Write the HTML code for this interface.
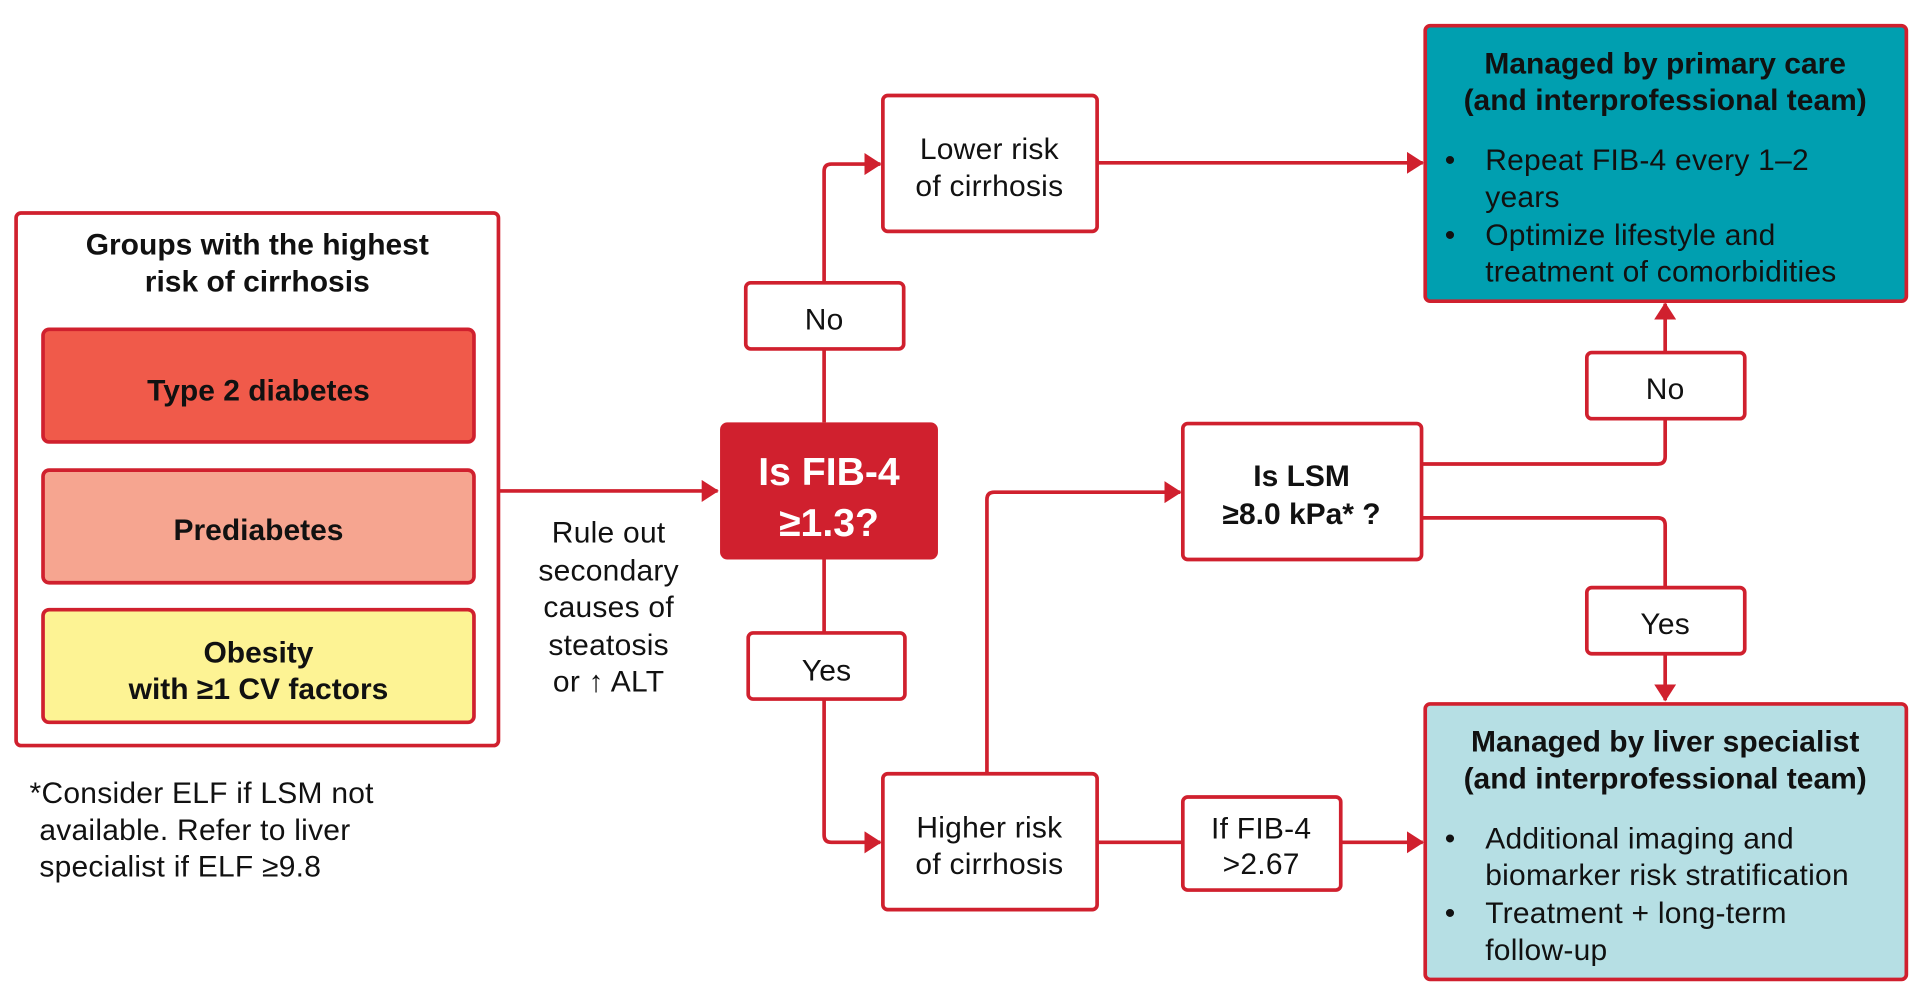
<!DOCTYPE html>
<html><head><meta charset="utf-8"><style>
html,body{margin:0;padding:0;background:#fff;width:1920px;height:999px;overflow:hidden}
svg{display:block}
text{font-family:"Liberation Sans",sans-serif;font-size:24.5px;fill:#111;letter-spacing:0.2px}
.b{font-weight:bold;letter-spacing:0}
.c{text-anchor:middle}
</style></head><body>
<svg width="1920" height="999" viewBox="0 0 1568 816" xmlns="http://www.w3.org/2000/svg">
<defs><marker id="a" markerWidth="14" markerHeight="18" refX="13" refY="9" orient="auto" markerUnits="userSpaceOnUse"><path d="M0,0 L14,9 L0,18 Z" fill="#d0202e"/></marker></defs>
<g fill="none" stroke="#d0202e" stroke-width="3">
<rect x="13" y="174" width="394" height="435" rx="4" fill="#fff"/>
<rect x="35" y="269" width="352" height="92" rx="5" fill="#f05a4a"/>
<rect x="35" y="384" width="352" height="92" rx="5" fill="#f6a590"/>
<rect x="35" y="498" width="352" height="92" rx="5" fill="#fdf394"/>
<path d="M407,401 H586" marker-end="url(#a)"/>
<path d="M673,345 V140 Q673,134 679,134 H719" marker-end="url(#a)"/>
<path d="M673,457 V682 Q673,688 679,688 H719" marker-end="url(#a)"/>
<path d="M896,133 H1162" marker-end="url(#a)"/>
<path d="M806,632 V408 Q806,402 812,402 H964" marker-end="url(#a)"/>
<path d="M1161,379 H1354 Q1360,379 1360,373 V248" marker-end="url(#a)"/>
<path d="M1161,423 H1354 Q1360,423 1360,429 V572" marker-end="url(#a)"/>
<path d="M896,688 H966"/>
<path d="M1095,688 H1162" marker-end="url(#a)"/>
<rect x="609" y="231" width="129" height="54" rx="4" fill="#fff"/>
<rect x="611" y="517" width="128" height="54" rx="4" fill="#fff"/>
<rect x="721" y="78" width="175" height="111" rx="4" fill="#fff"/>
<rect x="721" y="632" width="175" height="111" rx="4" fill="#fff"/>
<rect x="966" y="346" width="195" height="111" rx="4" fill="#fff"/>
<rect x="1296" y="288" width="129" height="54" rx="4" fill="#fff"/>
<rect x="1296" y="480" width="129" height="54" rx="4" fill="#fff"/>
<rect x="966" y="651" width="129" height="76" rx="4" fill="#fff"/>
<rect x="1164" y="21" width="393" height="225" rx="4" fill="#009fb0"/>
<rect x="1164" y="575" width="393" height="225" rx="4" fill="#b6dfe4"/>
</g>
<rect x="588" y="345" width="178" height="112" rx="6" fill="#d0202e"/>
<text class="b c" x="210" y="208">Groups with the highest</text>
<text class="b c" x="210" y="238">risk of cirrhosis</text>
<text class="b c" x="211" y="327">Type 2 diabetes</text>
<text class="b c" x="211" y="441">Prediabetes</text>
<text class="b c" x="211" y="541">Obesity</text>
<text class="b c" x="211" y="571">with ≥1 CV factors</text>
<text x="24" y="656">*Consider ELF if LSM not</text>
<text x="32" y="686">available. Refer to liver</text>
<text x="32" y="716">specialist if ELF ≥9.8</text>
<text class="c" x="497" y="443">Rule out</text>
<text class="c" x="497" y="474">secondary</text>
<text class="c" x="497" y="504">causes of</text>
<text class="c" x="497" y="535">steatosis</text>
<text class="c" x="497" y="565">or ↑ ALT</text>
<text class="b c" x="677" y="396" style="font-size:32px;fill:#fff">Is FIB-4</text>
<text class="b c" x="677" y="438" style="font-size:32px;fill:#fff">≥1.3?</text>
<text class="c" x="673" y="269">No</text>
<text class="c" x="675" y="556">Yes</text>
<text class="c" x="808" y="130">Lower risk</text>
<text class="c" x="808" y="160">of cirrhosis</text>
<text class="c" x="808" y="684">Higher risk</text>
<text class="c" x="808" y="714">of  cirrhosis</text>
<text class="b c" x="1063" y="397">Is LSM</text>
<text class="b c" x="1063" y="428">≥8.0 kPa* ?</text>
<text class="c" x="1360" y="326">No</text>
<text class="c" x="1360" y="518">Yes</text>
<text class="c" x="1030" y="685">If FIB-4</text>
<text class="c" x="1030" y="714">&gt;2.67</text>
<text class="b c" x="1360" y="60">Managed by primary care</text>
<text class="b c" x="1360" y="90">(and interprofessional team)</text>
<text x="1180" y="139">•</text><text x="1213" y="139">Repeat FIB-4 every 1–2</text>
<text x="1213" y="169">years</text>
<text x="1180" y="200">•</text><text x="1213" y="200">Optimize lifestyle and</text>
<text x="1213" y="230">treatment of comorbidities</text>
<text class="b c" x="1360" y="614">Managed by liver specialist</text>
<text class="b c" x="1360" y="644">(and interprofessional team)</text>
<text x="1180" y="693">•</text><text x="1213" y="693">Additional imaging and</text>
<text x="1213" y="723">biomarker risk stratification</text>
<text x="1180" y="754">•</text><text x="1213" y="754">Treatment + long-term</text>
<text x="1213" y="784">follow-up</text>
</svg>
</body></html>
